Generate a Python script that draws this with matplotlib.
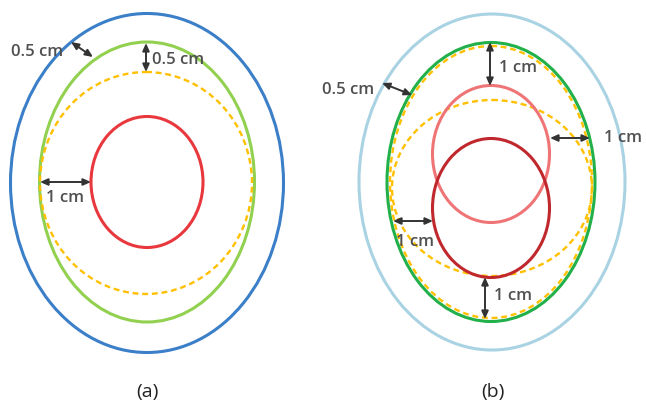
import matplotlib
matplotlib.use("Agg")
import matplotlib.pyplot as plt
from matplotlib.patches import Ellipse

# ellipse outlines, in reference pixel units: (cx, cy, width, height)
a_names = ["outer", "green", "dashed", "target"]
a_cx = [147, 147, 146, 147]
a_cy = [183, 182, 183, 182]
a_w = [273, 215, 212, 112]
a_h = [339, 280, 222, 131]
a_colors = ["#3a7fc8", "#92d050", "#ffc000", "#e8383d"]
a_styles = ["-", "-", "--", "-"]

b_names = ["outer", "green", "dashed_outer", "dashed_inner", "target_up", "target_down"]
b_cx = [492, 491, 491, 492, 491, 491]
b_cy = [182, 182, 182, 188, 154, 208]
b_w = [266, 208, 202, 200, 117, 117]
b_h = [336, 279, 272, 176, 137, 139]
b_colors = ["#a9d3e3", "#22b04a", "#ffc000", "#ffc000", "#ef7476", "#c0282d"]
b_styles = ["-", "-", "--", "--", "-", "-"]

# margin arrows: (x0, y0, x1, y1) and their labels (text, x, y)
arrows = [
    (71, 42, 93, 57), (146, 43, 146, 72), (40, 182, 91, 182),
    (382, 83, 412, 95), (490, 42, 490, 86), (550, 138, 590, 138),
    (393, 221, 433, 221), (485, 277, 485, 319),
]
labels = [
    ("0.5 cm", 11, 52), ("0.5 cm", 152, 60), ("1 cm", 46, 198),
    ("0.5 cm", 322, 90), ("1 cm", 499, 68), ("1 cm", 604, 138),
    ("1 cm", 396, 242), ("1 cm", 494, 296),
]
panel_tags = [("(a)", 147, 392), ("(b)", 493, 392)]

fig = plt.figure(figsize=(6.46, 4.07), dpi=100)
ax = fig.add_axes([0, 0, 1, 1])
ax.set_xlim(0, 646)
ax.set_ylim(407, 0)
ax.axis("off")


def draw_rings(cxs, cys, ws, hs, colors, styles):
    for cx, cy, w, h, c, ls in zip(cxs, cys, ws, hs, colors, styles):
        e = Ellipse((cx, cy), w, h, fill=False, edgecolor=c,
                    linewidth=2.2 if ls == "-" else 1.7)
        if ls == "--":
            e.set_linestyle((0, (2.5, 1.6)))
        ax.add_patch(e)


draw_rings(a_cx, a_cy, a_w, a_h, a_colors, a_styles)
draw_rings(b_cx, b_cy, b_w, b_h, b_colors, b_styles)

for x0, y0, x1, y1 in arrows:
    ax.annotate("", xy=(x1, y1), xytext=(x0, y0),
                arrowprops=dict(arrowstyle="<|-|>,head_length=0.45,head_width=0.2",
                                color="#333333", lw=1.4, shrinkA=0, shrinkB=0))

for txt, x, y in labels:
    ax.text(x, y, txt, fontsize=12, color="#505050", family="Open Sans",
            fontweight="semibold", ha="left", va="center")

for txt, x, y in panel_tags:
    ax.text(x, y, txt, fontsize=14, color="#222222", family="Open Sans",
            ha="center", va="center")

fig.savefig("out.png", dpi=100)
